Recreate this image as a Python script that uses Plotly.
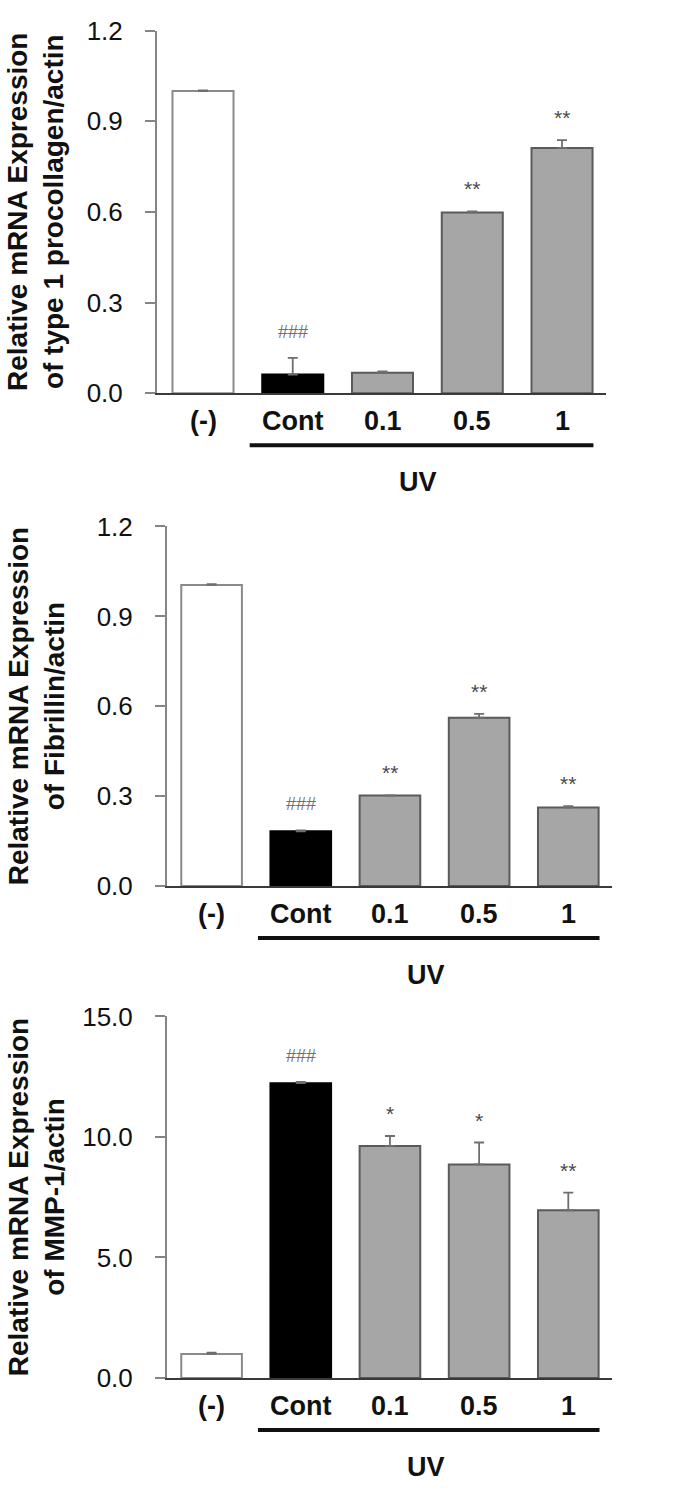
import plotly.graph_objects as go

W, H = 685, 1491

categories = ["(-)", "Cont", "0.1", "0.5", "1"]
unit_label = "(%)"
group_label = "UV"

collagen_mean = [1.0, 0.062, 0.068, 0.598, 0.812]
collagen_err = [0.002, 0.055, 0.004, 0.004, 0.026]
collagen_sig = ["", "###", "", "**", "**"]

fibrillin_mean = [1.005, 0.183, 0.302, 0.562, 0.262]
fibrillin_err = [0.003, 0.003, 0.001, 0.013, 0.005]
fibrillin_sig = ["", "###", "**", "**", "**"]

mmp_mean = [1.0, 12.23, 9.63, 8.86, 6.96]
mmp_err = [0.05, 0.05, 0.41, 0.91, 0.73]
mmp_sig = ["", "###", "*", "*", "**"]

titles = [
    "Relative mRNA Expression<br>of type 1 procollagen/actin",
    "Relative mRNA Expression<br>of Fibrillin/actin",
    "Relative mRNA Expression<br>of MMP-1/actin",
]
y_ticks = [[0.0, 0.3, 0.6, 0.9, 1.2], [0.0, 0.3, 0.6, 0.9, 1.2], [0.0, 5.0, 10.0, 15.0]]
y_max = [1.2, 1.2, 15.0]

fills = ["#ffffff", "#000000", "#a6a6a6", "#a6a6a6", "#a6a6a6"]
edges = ["#8a8a8a", "#000000", "#5a5a5a", "#5a5a5a", "#5a5a5a"]

means = [collagen_mean, fibrillin_mean, mmp_mean]
errs = [collagen_err, fibrillin_err, mmp_err]
sigs = [collagen_sig, fibrillin_sig, mmp_sig]

# panel geometry in pixels: (axis x left, axis x right, y top, y zero, x range)
geo = [
    (157, 606, 16, 386, [-0.5125, 4.49]),
    (167, 612, 522, 889, [-0.5, 4.49]),
    (167, 612, 1022, 1391, [-0.5, 4.49]),
]

FONT = "Arial, Liberation Sans, sans-serif"
fig = go.Figure()
annotations = []
shapes = []

for p in range(3):
    xl, xr, yt, yz, xrng = geo[p]
    sfx = "" if p == 0 else str(p + 1)
    xa, ya = "x" + sfx, "y" + sfx
    fig.add_trace(go.Bar(
        x=list(range(len(categories))), y=means[p],
        xaxis=xa, yaxis=ya, width=0.68,
        marker=dict(color=fills, line=dict(color=edges, width=2)),
        error_y=dict(type="data", array=errs[p], arrayminus=[0] * len(errs[p]),
                     symmetric=False, color="#6e6e6e", thickness=1.8, width=5),
        showlegend=False, hoverinfo="skip",
    ))
    dom_x = [xl / W, xr / W]
    dom_y = [1 - yz / H, 1 - yt / H]
    fig.layout["xaxis" + sfx] = dict(
        domain=dom_x, range=xrng, anchor=ya, showline=True, linecolor="#3a3a3a",
        linewidth=2, ticks="", showticklabels=False, showgrid=False, zeroline=False,
        fixedrange=True)
    fig.layout["yaxis" + sfx] = dict(
        domain=dom_y, range=[0, y_max[p]], anchor=xa, showline=True,
        linecolor="#858585", linewidth=2, ticks="outside", ticklen=10, tickwidth=2,
        tickcolor="#858585", tickvals=y_ticks[p],
        ticktext=["%.1f" % v for v in y_ticks[p]],
        tickfont=dict(family=FONT, size=26, color="#111111"),
        ticklabelstandoff=17, showgrid=False, zeroline=False, fixedrange=True)

    # category labels
    for i, c in enumerate(categories):
        annotations.append(dict(x=i, y=dom_y[0], xref=xa, yref="paper", text="<b>%s</b>" % c,
                                showarrow=False, yanchor="middle", yshift=-28,
                                font=dict(family=FONT, size=27, color="#111111")))
    annotations.append(dict(x=4.98, y=dom_y[0], xref=xa, yref="paper", text="<b>%s</b>" % unit_label,
                            showarrow=False, yanchor="middle", yshift=-28,
                            font=dict(family=FONT, size=27, color="#111111")))
    annotations.append(dict(x=2.4, y=dom_y[0], xref=xa, yref="paper", text="<b>%s</b>" % group_label,
                            showarrow=False, yanchor="middle", yshift=-89,
                            font=dict(family=FONT, size=27, color="#111111")))
    shapes.append(dict(type="line", xref=xa, yref="paper", x0=0.52, x1=4.35,
                       y0=dom_y[0] - 53 / H, y1=dom_y[0] - 53 / H,
                       line=dict(color="#111111", width=4)))

    # significance marks
    for i, s in enumerate(sigs[p]):
        if not s:
            continue
        is_hash = s.startswith("#")
        annotations.append(dict(x=i, y=means[p][i] + errs[p][i], xref=xa, yref=ya, text=s,
                                showarrow=False, yanchor="bottom",
                                yshift=14 if is_hash else 9,
                                font=dict(family=FONT, size=18 if is_hash else 21,
                                          color="#707070" if is_hash else "#4a4a4a")))

    # y title
    annotations.append(dict(x=36 / W, y=(dom_y[0] + dom_y[1]) / 2, xref="paper", yref="paper",
                            text="<b>%s</b>" % titles[p], textangle=-90, showarrow=False,
                            xanchor="center", yanchor="middle",
                            font=dict(family=FONT, size=28, color="#111111")))

fig.update_layout(
    width=W, height=H, margin=dict(l=0, r=0, t=0, b=0),
    paper_bgcolor="white", plot_bgcolor="white",
    annotations=annotations, shapes=shapes, bargap=0.3,
)
fig.write_html(
    "out.html",
    config={"displayModeBar": False, "staticPlot": True},
    post_script="document.body.style.margin='0';document.body.style.overflow='hidden';",
)
